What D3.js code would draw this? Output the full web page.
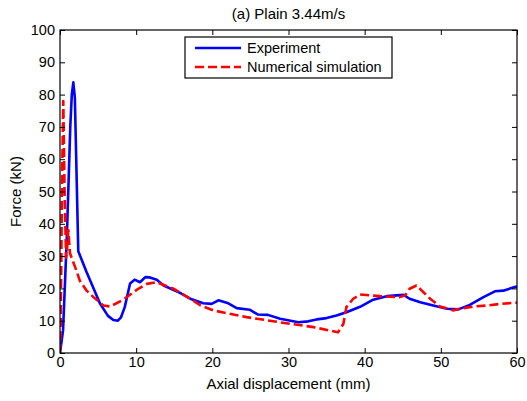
<!DOCTYPE html>
<html>
<head>
<meta charset="utf-8">
<script src="https://cdn.jsdelivr.net/npm/d3@7"></script>
<style>
  body { margin: 0; background: #fff; }
  svg { display: block; font-family: "Liberation Sans", Arial, sans-serif; }
</style>
</head>
<body>
<svg id="chart" width="527" height="401"></svg>
<script>
// Axial displacement (mm) / force (kN)
const expX = [0, 0.4, 0.9, 1.35, 1.55, 1.75, 1.95, 2.4, 3.5, 5.25, 6.3, 7.0, 7.6, 8.0, 8.5, 9.2, 9.8, 10.5, 11.2, 11.8, 12.7, 13.6, 15.75, 17.1, 18.8, 19.9, 20.8, 22.1, 23.2, 24.9, 26.0, 27.3, 28.9, 31.3, 32.6, 33.7, 35.0, 36.3, 37.6, 39.4, 41.0, 42.9, 45.1, 45.9, 47.3, 49.0, 50.8, 52.3, 53.8, 55.6, 57.1, 58.2, 59.7, 60];
const expY = [0, 7, 36, 70, 80, 83.8, 79, 31.5, 25, 15.3, 11.5, 10.2, 10, 11, 14.2, 21.5, 22.7, 21.9, 23.5, 23.4, 22.7, 20.9, 18.6, 16.8, 15.4, 15.2, 16.3, 15.4, 13.9, 13.4, 11.9, 11.8, 10.6, 9.5, 9.8, 10.4, 10.8, 11.6, 12.6, 14.3, 16.4, 17.6, 18.0, 16.8, 15.7, 14.7, 13.7, 13.5, 14.9, 17.3, 19.1, 19.3, 20.4, 20.6];

const simX = [0, 0.1, 0.25, 0.43, 0.6, 0.8, 0.95, 1.1, 1.3, 1.6, 2.0, 2.6, 3.5, 4.4, 5.7, 6.6, 8.3, 10.1, 11.4, 12.7, 14.9, 17.1, 18.4, 20.1, 24.5, 28.9, 33.3, 36.5, 37.2, 37.6, 38.5, 39.4, 42.0, 44.6, 45.3, 45.9, 46.8, 47.5, 48.6, 49.9, 51.6, 52.5, 54.3, 56.0, 57.8, 60];
const simY = [0, 10, 50, 78, 50, 29.5, 33, 38, 31, 29, 26.5, 22.4, 19.3, 17.3, 14.7, 14.4, 16.5, 19.6, 21.4, 21.9, 19.9, 16.8, 14.8, 13.2, 11.1, 9.5, 8.0, 6.4, 9.0, 14.2, 16.8, 18.1, 17.6, 17.3, 17.8, 19.9, 20.9, 19.3, 16.8, 14.4, 13.2, 13.7, 14.4, 14.7, 15.2, 15.6];

const xTicks = [0, 10, 20, 30, 40, 50, 60];
const yTicks = [0, 10, 20, 30, 40, 50, 60, 70, 80, 90, 100];

const seriesNames = ['Experiment', 'Numerical simulation'];
const seriesColors = ['#0000ff', '#ff0000'];

const svg = d3.select('#chart');
const margin = { top: 30, right: 10, bottom: 48, left: 60 };
const width = 527 - margin.left - margin.right;
const height = 401 - margin.top - margin.bottom;

const x = d3.scaleLinear().domain([0, 60]).range([0, width]);
const y = d3.scaleLinear().domain([0, 100]).range([height, 0]);

const g = svg.append('g').attr('transform', `translate(${margin.left},${margin.top})`);

// clip the lines to the plot box
g.append('clipPath').attr('id', 'clip')
  .append('rect').attr('width', width).attr('height', height);

const line = d3.line()
  .x(d => x(d[0]))
  .y(d => y(d[1]));

const expData = expX.map((v, i) => [v, expY[i]]);
const simData = simX.map((v, i) => [v, simY[i]]);

g.append('path')
  .datum(expData)
  .attr('clip-path', 'url(#clip)')
  .attr('fill', 'none')
  .attr('stroke', seriesColors[0])
  .attr('stroke-width', 2.6)
  .attr('stroke-linejoin', 'round')
  .attr('d', line);

g.append('path')
  .datum(simData)
  .attr('clip-path', 'url(#clip)')
  .attr('fill', 'none')
  .attr('stroke', seriesColors[1])
  .attr('stroke-width', 2.6)
  .attr('stroke-dasharray', '9,4')
  .attr('stroke-linejoin', 'round')
  .attr('d', line);

// axes, ticks point inward on all four sides (matlab style)
const styleAxis = sel => {
  sel.select('.domain').remove();
  sel.selectAll('line').attr('stroke', '#000');
  sel.selectAll('text').attr('fill', '#000').attr('font-size', '14.5px');
};

g.append('g')
  .attr('transform', `translate(0,${height})`)
  .call(d3.axisBottom(x).tickValues(xTicks).tickSize(-5).tickPadding(4))
  .call(styleAxis);

g.append('g')
  .call(d3.axisLeft(y).tickValues(yTicks).tickSize(-5).tickPadding(5))
  .call(styleAxis);

g.append('g')
  .call(d3.axisTop(x).tickValues(xTicks).tickSize(-5).tickFormat(''))
  .call(styleAxis);

g.append('g')
  .attr('transform', `translate(${width},0)`)
  .call(d3.axisRight(y).tickValues(yTicks).tickSize(-5).tickFormat(''))
  .call(styleAxis);

g.append('rect')
  .attr('width', width)
  .attr('height', height)
  .attr('fill', 'none')
  .attr('stroke', '#000')
  .attr('stroke-width', 1.2);

// title and axis labels
svg.append('text')
  .attr('x', margin.left + width / 2)
  .attr('y', 19)
  .attr('text-anchor', 'middle')
  .attr('font-size', '15px')
  .text('(a) Plain 3.44m/s');

svg.append('text')
  .attr('x', margin.left + width / 2)
  .attr('y', 389)
  .attr('text-anchor', 'middle')
  .attr('font-size', '15px')
  .text('Axial displacement (mm)');

svg.append('text')
  .attr('transform', `translate(21,${margin.top + height / 2}) rotate(-90)`)
  .attr('text-anchor', 'middle')
  .attr('font-size', '15px')
  .text('Force (kN)');

// legend
const legend = svg.append('g').attr('transform', 'translate(185,37)');
legend.append('rect')
  .attr('width', 207)
  .attr('height', 41)
  .attr('fill', '#fff')
  .attr('stroke', '#000')
  .attr('stroke-width', 1.2);

seriesNames.forEach((name, i) => {
  const ly = 11 + i * 19;
  legend.append('line')
    .attr('x1', 10).attr('x2', 56)
    .attr('y1', ly).attr('y2', ly)
    .attr('stroke', seriesColors[i])
    .attr('stroke-width', 2.6)
    .attr('stroke-dasharray', i === 1 ? '9,4' : null);
  legend.append('text')
    .attr('x', 62)
    .attr('y', ly + 5)
    .attr('font-size', '14.5px')
    .text(name);
});
</script>
</body>
</html>
